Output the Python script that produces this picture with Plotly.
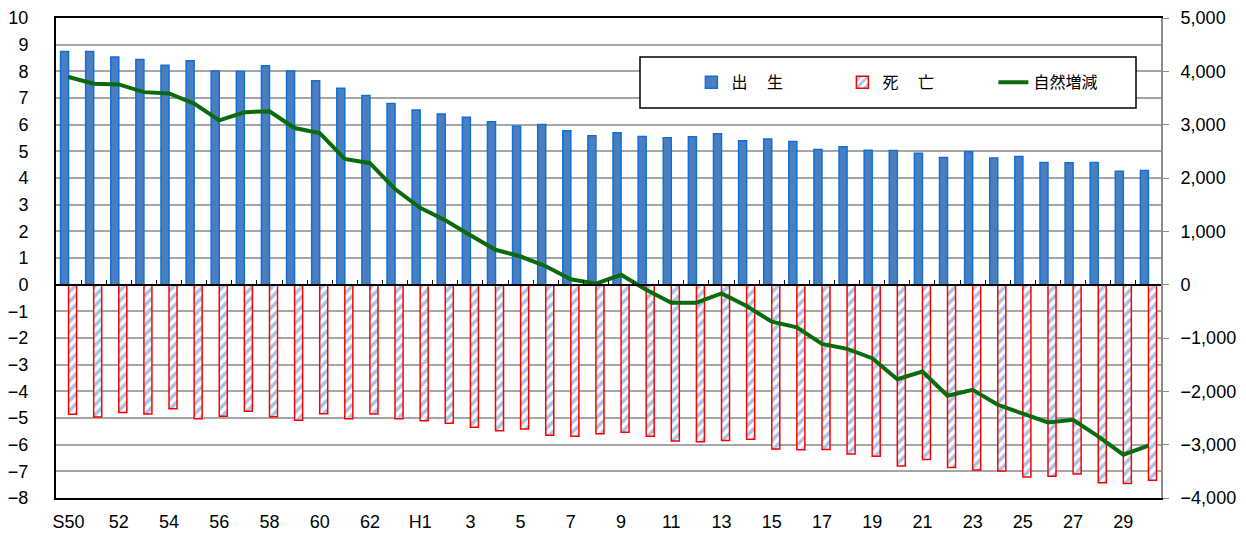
import plotly.graph_objects as go

# categories: Showa 50-63, Heisei 1-30
categories = [f"S{y}" for y in range(50, 64)] + [f"H{y}" for y in range(1, 31)]
tick_vals = categories[::2]
tick_text = ["S50", "52", "54", "56", "58", "60", "62", "H1", "3", "5", "7", "9", "11",
             "13", "15", "17", "19", "21", "23", "25", "27", "29"]

births = [8.74, 8.74, 8.54, 8.44, 8.23, 8.40, 8.01, 7.99, 8.21, 8.01, 7.65, 7.37, 7.09, 6.79,
          6.55, 6.40, 6.28, 6.11, 5.94, 6.01, 5.77, 5.58, 5.70, 5.56, 5.51, 5.55, 5.66, 5.40,
          5.46, 5.37, 5.07, 5.17, 5.04, 5.03, 4.93, 4.77, 4.98, 4.75, 4.81, 4.58, 4.57, 4.58,
          4.25, 4.28]
deaths = [-4.86, -4.96, -4.79, -4.85, -4.65, -5.03, -4.93, -4.75, -4.95, -5.08, -4.84, -5.03,
          -4.85, -5.03, -5.10, -5.20, -5.35, -5.48, -5.41, -5.65, -5.68, -5.59, -5.53, -5.68,
          -5.86, -5.89, -5.84, -5.80, -6.16, -6.19, -6.18, -6.35, -6.43, -6.80, -6.56, -6.86,
          -6.95, -6.99, -7.21, -7.18, -7.10, -7.43, -7.46, -7.33]
natural = [3893, 3767, 3755, 3610, 3585, 3396, 3082, 3233, 3252, 2937, 2843, 2358, 2277, 1792,
           1440, 1208, 925, 654, 528, 346, 100, 20, 185, -95, -338, -338, -163, -400,
           -694, -800, -1110, -1204, -1379, -1772, -1628, -2084, -1971, -2252, -2420, -2583,
           -2533, -2845, -3188, -3019]

names = ["出　 生", "死　 亡", "自然増減"]

tick_font = dict(family="Liberation Sans, Arial, sans-serif", size=18, color="#000000")

fig = go.Figure()
fig.add_trace(go.Bar(
    x=categories, y=births, name=names[0],
    marker=dict(color="#4a7ebf", line=dict(color="#1070d8", width=1.5)),
    xaxis="x", yaxis="y",
))
fig.add_trace(go.Bar(
    x=categories, y=deaths, name=names[1],
    marker=dict(color="#ffffff", line=dict(color="#ff0000", width=1.5),
                pattern=dict(shape="/", fgcolor="#4f86d0", bgcolor="#ffffff",
                             size=7, solidity=0.5)),
    xaxis="x", yaxis="y",
))
fig.add_trace(go.Scatter(
    x=categories, y=natural, name=names[2], mode="lines",
    line=dict(color="#0b6a0b", width=4),
    xaxis="x2", yaxis="y2",
))

fig.update_layout(
    width=1246, height=534,
    margin=dict(l=56, r=85, t=18, b=36, autoexpand=False),
    paper_bgcolor="#ffffff", plot_bgcolor="#ffffff",
    barmode="group", bargap=0.36, bargroupgap=0.0,
    showlegend=True,
    legend=dict(orientation="h", x=0.575, y=0.866, xanchor="left", yanchor="middle",
                bgcolor="rgba(0,0,0,0)", borderwidth=0, entrywidth=106,
                font=dict(family="Noto Sans CJK JP, sans-serif", size=16, color="#000000"),
                traceorder="normal"),
    xaxis=dict(type="category", categoryorder="array", categoryarray=categories,
               range=[-0.5, 43.5], tickvals=tick_vals, ticktext=tick_text,
               ticks="", ticklabelstandoff=6, tickfont=tick_font, automargin=False,
               showline=True, linecolor="#000000", linewidth=2, mirror=True,
               showgrid=False, zeroline=False),
    xaxis2=dict(type="category", categoryorder="array", categoryarray=categories,
                range=[-0.5, 43.5], overlaying="x", anchor="free", position=8 / 18,
                side="bottom", showticklabels=False, showgrid=False, zeroline=False,
                showline=True, linecolor="#000000", linewidth=2, automargin=False,
                ticks="inside", ticklen=4, tickwidth=1, tickcolor="#000000",
                tickson="boundaries"),
    yaxis=dict(range=[-8, 10], dtick=1, tickfont=tick_font, ticks="",
               ticklabelstandoff=22, automargin=False,
               showgrid=True, gridcolor="#a6a6a6", gridwidth=1.5, zeroline=False,
               showline=True, linecolor="#000000", linewidth=2),
    yaxis2=dict(range=[-4000, 5000], dtick=1000, tickformat=",", overlaying="y",
                anchor="x2", side="right", tickfont=tick_font, automargin=False,
                ticks="outside", ticklen=6, tickcolor="#8c8c8c", ticklabelstandoff=8,
                showgrid=False, zeroline=False,
                showline=True, linecolor="#8c8c8c", linewidth=2),
    shapes=[dict(type="rect", xref="paper", yref="paper",
                 x0=(640 - 56) / 1105, x1=(1136 - 56) / 1105,
                 y0=1 - (108 - 18) / 480, y1=1 - (57 - 18) / 480,
                 line=dict(color="#000000", width=1.5), fillcolor="#ffffff",
                 layer="above")],
)

fig.write_html("out.html", config={"displayModeBar": False},
               post_script="document.body.style.margin='0';document.body.style.overflow='hidden';")
